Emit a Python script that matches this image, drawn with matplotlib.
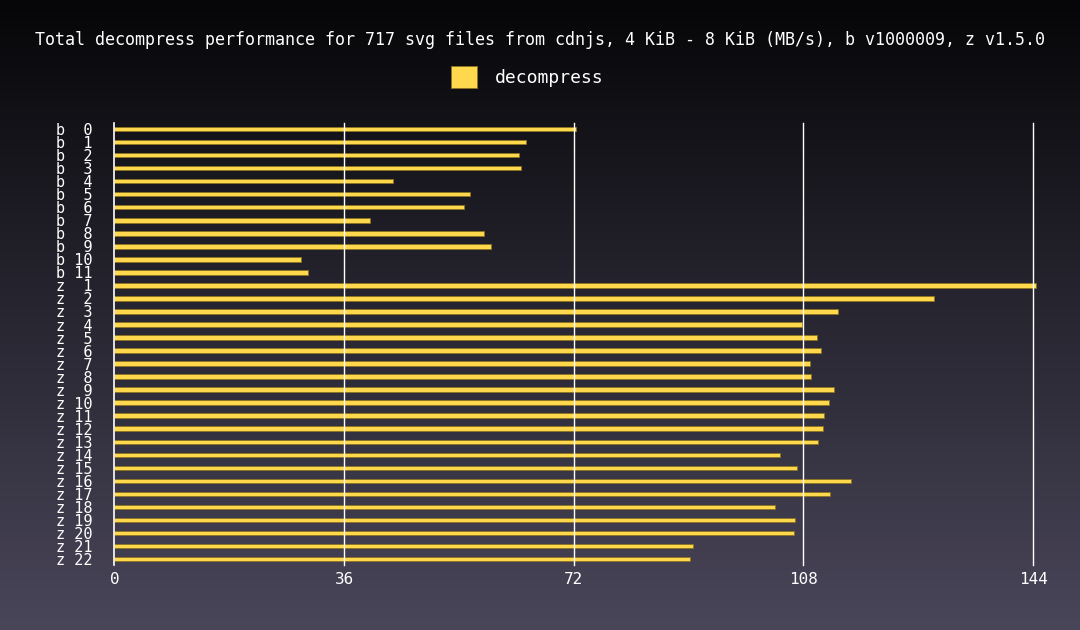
import matplotlib.pyplot as plt
import numpy as np

labels = ["b  0", "b  1", "b  2", "b  3", "b  4", "b  5", "b  6", "b  7", "b  8", "b  9", "b 10", "b 11",
          "z  1", "z  2", "z  3", "z  4", "z  5", "z  6", "z  7", "z  8", "z  9", "z 10", "z 11",
          "z 12", "z 13", "z 14", "z 15", "z 16", "z 17", "z 18", "z 19", "z 20", "z 21", "z 22"]
decompress = [72.4, 64.5, 63.4, 63.7, 43.7, 55.7, 54.8, 40.1, 57.9, 59.0, 29.2, 30.3,
              144.4, 128.4, 113.4, 107.8, 110.1, 110.8, 109.0, 109.2, 112.8, 112.0, 111.2,
              111.1, 110.3, 104.3, 107.0, 115.5, 112.2, 103.6, 106.7, 106.6, 90.7, 90.3]
xticks = [0, 36, 72, 108, 144]

mono = "DejaVu Sans Mono"
bar_color = "#ffd84d"

fig = plt.figure(figsize=(10.8, 6.3), dpi=100)

# background gradient, dark at top to greyish purple at bottom
bg = fig.add_axes([0, 0, 1, 1], zorder=0)
top = np.array([6, 6, 8]) / 255
bottom = np.array([74, 70, 90]) / 255
t = np.linspace(0, 1, 256)[:, None]
grad = top + (bottom - top) * t
bg.imshow(grad[:, None, :], aspect="auto", extent=[0, 1, 0, 1])
bg.axis("off")

ax = fig.add_axes([0.106, 0.1024, 0.8505, 0.703], zorder=1)
ax.patch.set_alpha(0)

y = np.arange(len(labels))
ax.barh(y, decompress, height=0.34, color=bar_color, edgecolor="#8a7420",
        linewidth=0.6, clip_on=False, zorder=2, label="decompress")

ax.set_xlim(0, 144)
ax.set_ylim(len(labels) - 0.5, -0.5)
ax.set_xticks(xticks)
ax.set_xticklabels([str(v) for v in xticks], family=mono, fontsize=11.5, color="white")
ax.set_yticks(y)
ax.set_yticklabels(labels, family=mono, fontsize=11, color="white")
ax.tick_params(axis="both", length=0)
ax.tick_params(axis="x", pad=5)
ax.tick_params(axis="y", pad=16)

for s in ["top", "right", "bottom"]:
    ax.spines[s].set_visible(False)
ax.spines["left"].set_color("white")
ax.spines["left"].set_linewidth(1.2)
ax.spines["left"].set_zorder(4)

# vertical grid lines sit on top of the bars
for v in xticks[1:]:
    ax.axvline(v, color="white", linewidth=1.0, zorder=3, clip_on=False)

fig.text(0.5, 0.937, "Total decompress performance for 717 svg files from cdnjs, 4 KiB - 8 KiB (MB/s), b v1000009, z v1.5.0",
         ha="center", va="center", family=mono, fontsize=12, color="white")

leg = ax.legend(loc="center", bbox_to_anchor=(0.488, 0.8778), bbox_transform=fig.transFigure,
                frameon=False, prop={"family": mono, "size": 13}, labelcolor="white",
                handlelength=1.45, handleheight=1.45, handletextpad=1.0)

fig.savefig("out.png", dpi=100)
